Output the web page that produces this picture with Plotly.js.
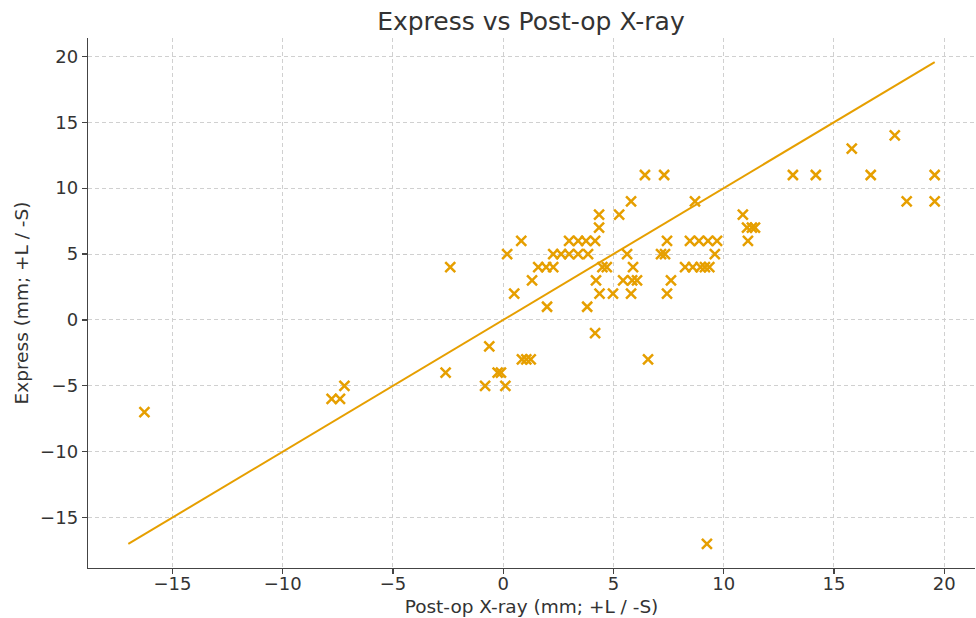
<!DOCTYPE html>
<html>
<head>
<meta charset="utf-8">
<script src="https://cdn.plot.ly/plotly-3.0.1.min.js"></script>
<style>html,body{margin:0;padding:0;background:#fff;}#chart{width:976px;height:618px;}</style>
</head>
<body>
<div id="chart"></div>
<script>
// Post-op X-ray (x) values and Express (y) values
const postopX = [
  -16.27,
  -7.78, -7.4,
  -7.2, -0.82, 0.1,
  -2.61, -0.25, -0.1,
  -0.63,
  0.85, 1.05, 1.25, 6.57,
  4.17,
  1.99, 3.81,
  0.5, 4.37, 4.98, 5.8, 7.43,
  1.31, 4.21, 5.44, 5.85, 6.07, 7.61,
  -2.4, 1.59, 1.95, 2.27, 4.5, 4.7, 5.89, 8.25, 8.6, 8.95, 9.15, 9.35,
  0.18, 2.27, 2.63, 2.99, 3.4, 3.85, 5.62, 7.16, 7.34, 9.6,
  0.82, 2.99, 3.4, 3.76, 4.17, 7.43, 8.47, 8.88, 9.29, 9.7, 11.1,
  4.35, 11.06, 11.28, 11.42,
  4.35, 5.26, 10.87,
  5.8, 8.7, 18.3, 19.57,
  6.43, 7.3, 13.14, 14.18, 16.67, 19.57,
  15.81,
  17.76,
  9.24
];
const express = [
  -7,
  -6, -6,
  -5, -5, -5,
  -4, -4, -4,
  -2,
  -3, -3, -3, -3,
  -1,
  1, 1,
  2, 2, 2, 2, 2,
  3, 3, 3, 3, 3, 3,
  4, 4, 4, 4, 4, 4, 4, 4, 4, 4, 4, 4,
  5, 5, 5, 5, 5, 5, 5, 5, 5, 5,
  6, 6, 6, 6, 6, 6, 6, 6, 6, 6, 6,
  7, 7, 7, 7,
  8, 8, 8,
  9, 9, 9, 9,
  11, 11, 11, 11, 11, 11,
  13,
  14,
  -17
];

const lo = Math.min(Math.min(...postopX), Math.min(...express));
const hi = Math.max(Math.max(...postopX), Math.max(...express));
const pad = (hi - lo) * 0.05;
const color = '#e69f00';

const traces = [
  {
    x: postopX, y: express, type: 'scatter', mode: 'markers',
    marker: {symbol: 'x-thin', size: 10, color: color, line: {color: color, width: 2.5}},
    hoverinfo: 'x+y', showlegend: false
  },
  {
    x: [lo, hi], y: [lo, hi], type: 'scatter', mode: 'lines',
    line: {color: color, width: 2}, showlegend: false
  }
];

const axisCommon = {
  range: [lo - pad, hi + pad],
  tick0: 0, dtick: 5,
  showgrid: true, gridcolor: '#d0d0d0', griddash: '4px,3px', gridwidth: 1,
  zeroline: false,
  showline: true, linecolor: '#444', linewidth: 1.3,
  ticks: 'outside', ticklen: 5, tickcolor: '#444', tickwidth: 1.2,
  tickfont: {family: 'DejaVu Sans', size: 18, color: '#333'},
  mirror: false
};

const layout = {
  width: 976, height: 618,
  margin: {l: 88, r: 1, t: 38, b: 50},
  paper_bgcolor: '#fff', plot_bgcolor: '#fff',
  title: {text: 'Express vs Post-op X-ray', x: 0.544, xanchor: 'center', y: 0.965, yanchor: 'middle',
          font: {family: 'DejaVu Sans', size: 25, color: '#333'}},
  xaxis: Object.assign({}, axisCommon, {
    ticklabelstandoff: -6,
    title: {text: 'Post-op X-ray (mm; +L / -S)', standoff: 7, font: {family: 'DejaVu Sans', size: 18.5, color: '#333'}}
  }),
  yaxis: Object.assign({}, axisCommon, {
    title: {text: 'Express (mm; +L / -S)', standoff: 6, font: {family: 'DejaVu Sans', size: 18.5, color: '#333'}}
  }),
  hovermode: 'closest'
};

Plotly.newPlot('chart', traces, layout, {displayModeBar: false, staticPlot: true});
</script>
</body>
</html>
